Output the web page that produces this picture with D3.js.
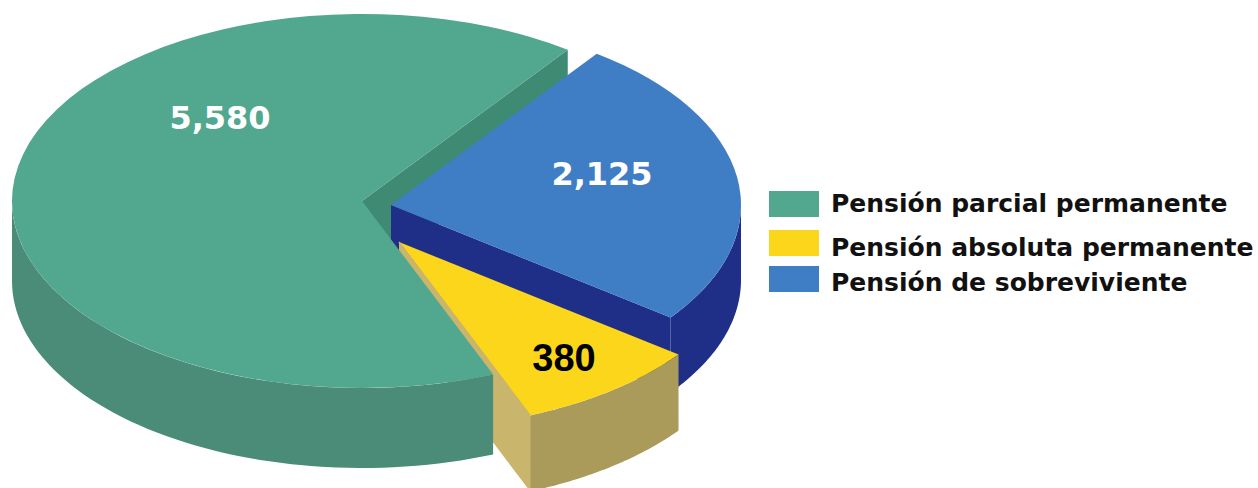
<!DOCTYPE html>
<html>
<head>
<meta charset="utf-8">
<script src="https://cdn.jsdelivr.net/npm/d3@7"></script>
<style>
html, body { margin: 0; padding: 0; background: #fff; }
svg { display: block; }
</style>
</head>
<body>
<div id="chart"></div>
<script>
var categories = ["Pensión parcial permanente", "Pensión de sobreviviente", "Pensión absoluta permanente"];
var values = [5580, 2125, 380];
// the drawing is not to scale, so the sweep of each slice is read off the picture (degrees)
var sweeps = [238, 91, 31];
var legendOrder = [0, 2, 1];

var width = 1258, height = 488;
var cx = 362, cy = 201, rx = 350, ry = 187;
var startDeg = 158;

var depths = [80, 75, 76];
var offsets = [[0, 0], [29, 4], [37, 41]];
var faceColor = ["#52a78f", "#3f7dc4", "#fbd61a"];
var wallColor = ["#4a8c77", "#1f2f88", "#aa9b5b"];
var cutColor = ["#3f8a72", "#1f2f88", "#c9b56c"];
var labelColor = ["#fff", "#fff", "#000"];
var labelFont = ["'DejaVu Sans'", "'DejaVu Sans'", "'Liberation Sans'"];
var labelSize = [32, 32, 38];
var labelPos = [[220, 117], [602, 173], [564, 357]];
var swatchY = [204, 243, 279];
var legendY = [203, 247, 282];

var svg = d3.select("#chart").append("svg")
    .attr("width", width)
    .attr("height", height);

var pie = d3.pie()
    .sort(null)
    .value(function(d) { return d; })
    .startAngle(startDeg * Math.PI / 180)
    .endAngle((startDeg + 360) * Math.PI / 180);

var slices = pie(sweeps);

var x = d3.scaleLinear().domain([-1, 1]).range([cx - rx, cx + rx]);
var y = d3.scaleLinear().domain([-1, 1]).range([cy - ry, cy + ry]);

var arc = d3.arc().innerRadius(0).outerRadius(rx);
var line = d3.line();

// point on the rim of slice i, for an angle measured clockwise from the top
function rim(i, a, drop) {
    return [x(Math.sin(a)) + offsets[i][0], y(-Math.cos(a)) + offsets[i][1] + (drop || 0)];
}
function apex(i, drop) {
    return [x(0) + offsets[i][0], y(0) + offsets[i][1] + (drop || 0)];
}

// wall under the visible (front) part of the rim
function drawOuter(i) {
    var turn = slices[i].startAngle >= Math.PI * 2 ? Math.PI * 2 : 0;
    var a0 = Math.max(slices[i].startAngle - turn, Math.PI / 2),
        a1 = Math.min(slices[i].endAngle - turn, Math.PI * 1.5);
    var angles = d3.range(0, 61).map(function(k) { return a0 + (a1 - a0) * k / 60; });
    var pts = angles.map(function(a) { return rim(i, a, 0); })
        .concat(angles.slice().reverse().map(function(a) { return rim(i, a, depths[i]); }));
    svg.append("path").attr("d", line(pts) + "Z").attr("fill", wallColor[i]);
}

// flat wall under the straight edge of a slice
function drawCut(i, a) {
    var pts = [apex(i, 0), rim(i, a, 0), rim(i, a, depths[i]), apex(i, depths[i])];
    svg.append("path").attr("d", line(pts) + "Z").attr("fill", cutColor[i]);
}

function drawFace(i) {
    svg.append("path")
        .attr("d", arc(slices[i]))
        .attr("transform", "translate(" + apex(i) + ") scale(1," + (ry / rx) + ")")
        .attr("fill", faceColor[i]);
}

// back to front
drawCut(0, slices[0].endAngle);
drawOuter(1);
drawCut(1, slices[1].endAngle);
drawFace(1);
drawOuter(2);
drawCut(2, slices[2].endAngle);
drawOuter(0);
drawFace(0);
drawFace(2);

// thin edge of the yellow slice
svg.append("path")
    .attr("d", line([apex(2), rim(2, slices[2].endAngle)]))
    .attr("stroke", cutColor[2])
    .attr("stroke-width", 1.5)
    .attr("fill", "none");

// value labels
values.forEach(function(v, i) {
    svg.append("text")
        .attr("x", labelPos[i][0])
        .attr("y", labelPos[i][1])
        .attr("dy", ".36em")
        .attr("text-anchor", "middle")
        .style("font-family", labelFont[i] + ", sans-serif")
        .style("font-weight", "bold")
        .style("font-size", labelSize[i] + "px")
        .attr("fill", labelColor[i])
        .text(d3.format(",")(v));
});

// legend
legendOrder.forEach(function(s, k) {
    svg.append("rect")
        .attr("x", 769)
        .attr("y", swatchY[k] - 13)
        .attr("width", 50)
        .attr("height", 26)
        .attr("fill", faceColor[s]);
    svg.append("text")
        .attr("x", 831)
        .attr("y", legendY[k])
        .attr("dy", ".35em")
        .style("font-family", "'DejaVu Sans', sans-serif")
        .style("font-weight", "bold")
        .style("font-size", "25px")
        .attr("fill", "#111")
        .text(categories[s]);
});
</script>
</body>
</html>
